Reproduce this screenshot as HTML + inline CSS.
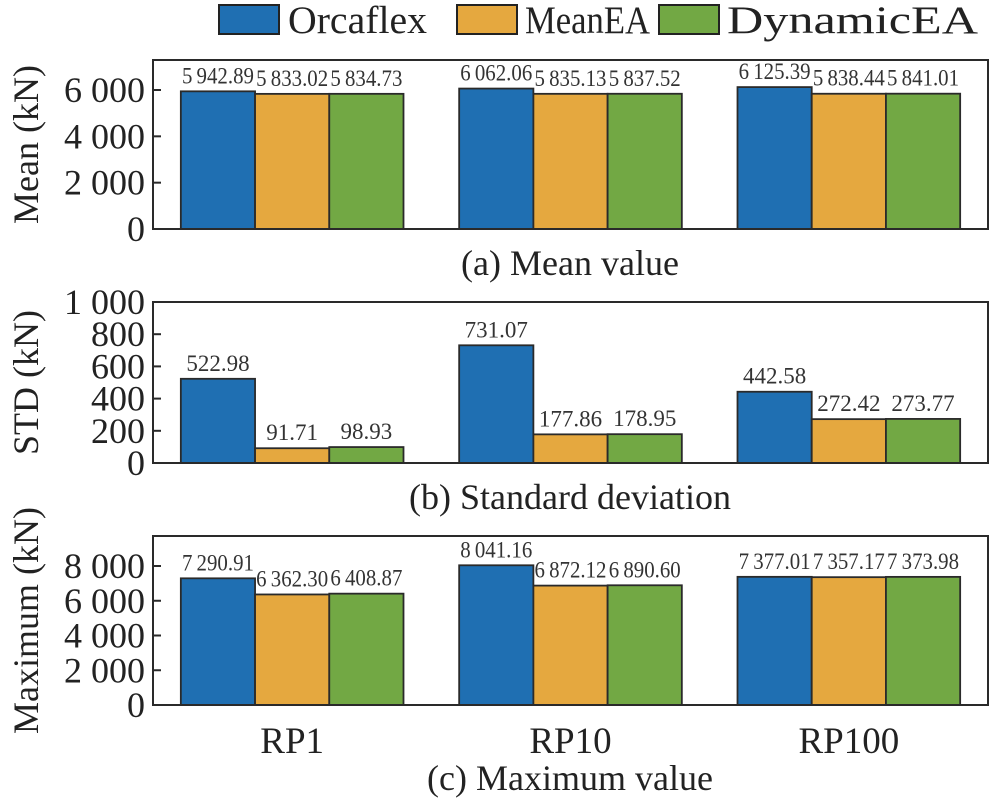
<!DOCTYPE html>
<html><head><meta charset="utf-8"><style>
body{margin:0;background:#fff}
svg{display:block}
svg text{font-family:"Liberation Serif","DejaVu Serif","Times New Roman",serif}
</style></head><body>
<svg id="chart" width="996" height="805" viewBox="0 0 996 805" font-family="Liberation Serif, DejaVu Serif, serif">
<g id="legend">
 <g><rect x="219" y="5" width="60" height="29" fill="#1f6fb2" stroke="#222" stroke-width="2"/><text x="288" y="33" font-size="39" fill="#222" textLength="139" lengthAdjust="spacingAndGlyphs">Orcaflex</text></g>
 <g><rect x="457" y="5" width="60" height="29" fill="#e5a83f" stroke="#222" stroke-width="2"/><text x="525" y="33" font-size="39" fill="#222" textLength="125" lengthAdjust="spacingAndGlyphs">MeanEA</text></g>
 <g><rect x="659" y="5" width="60" height="29" fill="#72a844" stroke="#222" stroke-width="2"/><text x="727" y="33" font-size="39" fill="#222" textLength="251" lengthAdjust="spacingAndGlyphs">DynamicEA</text></g>
</g>
</svg>
<script>
const categories = ["RP1","RP10","RP100"];
const seriesNames = ["Orcaflex","MeanEA","DynamicEA"];
const meanOrcaflex = [5942.89, 6062.06, 6125.39];
const meanMeanEA = [5833.02, 5835.13, 5838.44];
const meanDynamicEA = [5834.73, 5837.52, 5841.01];
const stdOrcaflex = [522.98, 731.07, 442.58];
const stdMeanEA = [91.71, 177.86, 272.42];
const stdDynamicEA = [98.93, 178.95, 273.77];
const maxOrcaflex = [7290.91, 8041.16, 7377.01];
const maxMeanEA = [6362.30, 6872.12, 7357.17];
const maxDynamicEA = [6408.87, 6890.60, 7373.98];
const meanTicks = [0, 2000, 4000, 6000];
const stdTicks = [0, 200, 400, 600, 800, 1000];
const maxTicks = [0, 2000, 4000, 6000, 8000];

const colors = ["#1f6fb2","#e5a83f","#72a844"];
const svg = document.getElementById('chart');
const NS = "http://www.w3.org/2000/svg";
function fmt(v){
  let s = v.toFixed(2); let [i,d] = s.split('.');
  if (i.length>3) i = i.slice(0,i.length-3)+'\u2009'+i.slice(-3);
  return i+'.'+d;
}
function tfmt(v){ let s=String(v); if(s.length>3) s=s.slice(0,s.length-3)+' '+s.slice(-3); return s; }
function mk(tag, attrs, parent){ const e=document.createElementNS(NS,tag); for(const k in attrs) e.setAttribute(k,attrs[k]); (parent||svg).appendChild(e); return e; }

const panels = [
 {key:'mean', top:60, bottom:229, max:7295, ticks:meanTicks, data:[meanOrcaflex,meanMeanEA,meanDynamicEA], ylabel:'Mean (kN)', title:'(a) Mean value', titleY:275, xlabels:false},
 {key:'std', top:302, bottom:463, max:1000, ticks:stdTicks, data:[stdOrcaflex,stdMeanEA,stdDynamicEA], ylabel:'STD (kN)', title:'(b) Standard deviation', titleY:509, xlabels:false},
 {key:'maximum', top:536, bottom:705, max:9727, ticks:maxTicks, data:[maxOrcaflex,maxMeanEA,maxDynamicEA], ylabel:'Maximum (kN)', title:'(c) Maximum value', titleY:790, xlabels:true}
];
const L=153, R=988;
const groupW = (R-L)/categories.length;
const barW = groupW*0.8/seriesNames.length;
function xCenter(ci){ return L + groupW*(ci+0.5); }

panels.forEach(p=>{
  const g = mk('g',{});
  
  
  const y = v => p.bottom - v/p.max*(p.bottom-p.top);
  p.data.forEach((arr,si)=>{
    arr.forEach((v,ci)=>{
      const x0 = xCenter(ci) - 1.5*barW + si*barW;
      const r = mk('rect',{x:x0,y:y(v),width:barW,height:p.bottom-y(v),fill:colors[si],stroke:'#2a2a2a','stroke-width':1.8},g);
      
      
      const label = fmt(v);
      const attrs = {x:x0+barW/2,y:y(v)-8,'text-anchor':'middle','font-size':23,fill:'#333'};
      if (label.length > 7) { attrs.textLength = 72; attrs.lengthAdjust = 'spacingAndGlyphs'; }
      const t = mk('text',attrs,g);
      t.textContent = label;
      
      
    });
  });
  const f = mk('rect',{x:L,y:p.top,width:R-L,height:p.bottom-p.top,fill:'none',stroke:'#2a2a2a','stroke-width':2},g);
  
  
  p.ticks.forEach(tv=>{
    mk('line',{x1:L,x2:L+8,y1:y(tv),y2:y(tv),stroke:'#2a2a2a','stroke-width':2},g);
    const t = mk('text',{x:L-8,y:y(tv)+12,'text-anchor':'end','font-size':36,fill:'#222'},g);
    t.textContent = tfmt(tv);
    
    
  });
  const yl = mk('text',{x:0,y:0,transform:`translate(38,${(p.top+p.bottom)/2}) rotate(-90)`,'text-anchor':'middle','font-size':36,fill:'#222'},g);
  yl.textContent = p.ylabel;
  
  
  const tt = mk('text',{x:570,y:p.titleY,'text-anchor':'middle','font-size':36,fill:'#222'},g);
  tt.textContent = p.title;
  
  
  if(p.xlabels){
    categories.forEach((c,ci)=>{
      const t = mk('text',{x:xCenter(ci),y:753,'text-anchor':'middle','font-size':37,fill:'#222'},g);
      t.textContent = c;
      
      
    });
  }
});
</script>
</body></html>
